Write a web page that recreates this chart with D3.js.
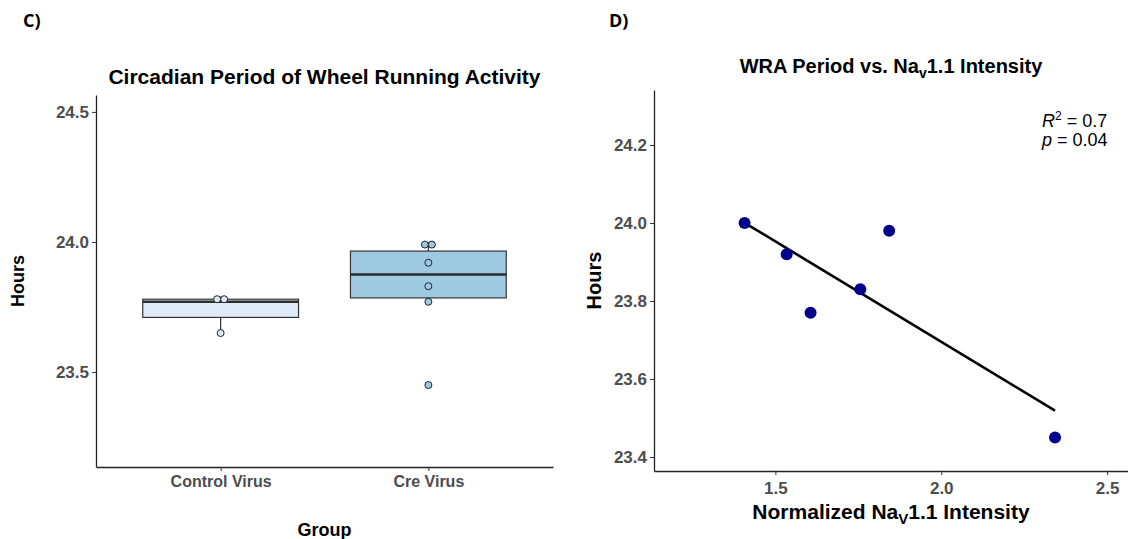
<!DOCTYPE html>
<html>
  <head>
    <style>
      body { margin: 0; background: #fff; }
      svg { font-family: "Liberation Sans", Arial, sans-serif; }
      .tick text { font-weight: bold; fill: #4d4d4d; }
      .tick line { stroke: #333; }
      .domain { stroke: #222; stroke-width: 1.3; }
      .panel-tag { font-family: "Open Sans", sans-serif; font-weight: 700; font-size: 18px; }
      .title { font-weight: bold; text-anchor: middle; }
      .axis-title { font-weight: bold; text-anchor: middle; }
    </style>
  </head>
  <body>
    <script src="https://d3js.org/d3.v7.min.js"></script>
    <div id="chart"></div>
    <script>
      // Data
      var groups = ["Control Virus", "Cre Virus"];
      var controlHours = [23.65, 23.77, 23.79];
      // Cre animals, in the same order as naIntensity
      var creHours = [24.00, 23.92, 23.77, 23.83, 23.98, 23.45];
      var naIntensity = [1.407, 1.534, 1.606, 1.756, 1.843, 2.343];

      var boxYTicks = [23.5, 24.0, 24.5];
      var scatYTicks = [23.4, 23.6, 23.8, 24.0, 24.2];
      var scatXTicks = [1.5, 2.0, 2.5];
      var boxFills = ["#deebf7", "#9ecae1"];

      var svg = d3.select("#chart")
                  .append("svg")
                    .attr("width", 1128)
                    .attr("height", 539);

      // ---------- Panel C: boxplot ----------
      var L = {left: 96, right: 553, top: 95, bottom: 467};

      var x = d3.scalePoint()
                .domain(groups)
                .range([L.left, L.right])
                .padding(0.6);
      var y = d3.scaleLinear()
                .domain([23.135, 24.565])
                .range([L.bottom, L.top]);

      svg.append("text")
          .attr("class", "panel-tag")
          .attr("x", 23).attr("y", 27)
          .text("C)");

      svg.append("text")
          .attr("class", "title")
          .attr("x", (L.left + L.right) / 2)
          .attr("y", 84)
          .style("font-size", "21px")
          .text("Circadian Period of Wheel Running Activity");

      var boxW = x.step() * 0.75;
      var sets = [controlHours, creHours];

      sets.forEach(function(vals, i) {
        var s = vals.slice().sort(d3.ascending);
        var q1 = d3.quantile(s, 0.25),
            med = d3.quantile(s, 0.5),
            q3 = d3.quantile(s, 0.75),
            iqr = q3 - q1;
        var lo = d3.min(s.filter(function(v) { return v >= q1 - 1.5 * iqr; })),
            hi = d3.max(s.filter(function(v) { return v <= q3 + 1.5 * iqr; }));
        var cx = x(groups[i]);
        var g = svg.append("g");

        // whiskers
        g.append("line")
            .attr("x1", cx).attr("x2", cx)
            .attr("y1", y(q1)).attr("y2", y(lo))
            .attr("stroke", "#333").attr("stroke-width", 1.2);
        g.append("line")
            .attr("x1", cx).attr("x2", cx)
            .attr("y1", y(q3)).attr("y2", y(hi))
            .attr("stroke", "#333").attr("stroke-width", 1.2);

        g.append("rect")
            .attr("x", cx - boxW / 2)
            .attr("width", boxW)
            .attr("y", y(q3))
            .attr("height", y(q1) - y(q3))
            .attr("fill", boxFills[i])
            .attr("stroke", "#333")
            .attr("stroke-width", 1.2);

        g.append("line")
            .attr("x1", cx - boxW / 2).attr("x2", cx + boxW / 2)
            .attr("y1", y(med)).attr("y2", y(med))
            .attr("stroke", "#2b2b2b").attr("stroke-width", 2.6);

        // dots: values closer than binwidth are stacked side by side at the bin centre
        var bins = [], bw = 0.025;
        s.forEach(function(v) {
          var b = bins[bins.length - 1];
          if (b && v - b[0] < bw) b.push(v); else bins.push([v]);
        });
        var r = 3.5;
        bins.forEach(function(b) {
          var c = (b[0] + b[b.length - 1]) / 2;
          b.forEach(function(v, k) {
            g.append("circle")
                .attr("cx", cx + (k - (b.length - 1) / 2) * 2 * r)
                .attr("cy", y(c))
                .attr("r", r)
                .attr("fill", boxFills[i])
                .attr("stroke", "#222")
                .attr("stroke-width", 1);
          });
        });
      });

      svg.append("g")
          .attr("transform", "translate(" + L.left + ",0)")
          .call(d3.axisLeft(y).tickValues(boxYTicks)
                  .tickFormat(d3.format(".1f"))
                  .tickSize(4).tickSizeOuter(0).tickPadding(3))
          .selectAll("text").style("font-size", "17px");

      svg.append("g")
          .attr("transform", "translate(0," + L.bottom + ")")
          .call(d3.axisBottom(x).tickSize(4).tickSizeOuter(0).tickPadding(5))
          .selectAll("text").style("font-size", "16px");

      svg.append("text")
          .attr("class", "axis-title")
          .attr("transform", "translate(24," + ((L.top + L.bottom) / 2) + ") rotate(-90)")
          .style("font-size", "18px")
          .text("Hours");

      svg.append("text")
          .attr("class", "axis-title")
          .attr("x", (L.left + L.right) / 2)
          .attr("y", 536)
          .style("font-size", "18px")
          .text("Group");

      // ---------- Panel D: scatter with fit ----------
      var R = {left: 654, right: 1128, top: 90, bottom: 471};

      var sx = d3.scaleLinear()
                 .domain([1.134, 2.563])
                 .range([R.left, R.right]);
      var sy = d3.scaleLinear()
                 .domain([23.364, 24.341])
                 .range([R.bottom, R.top]);

      svg.append("text")
          .attr("class", "panel-tag")
          .attr("x", 609).attr("y", 27)
          .text("D)");

      var t2 = svg.append("text")
          .attr("class", "title")
          .attr("x", (R.left + R.right) / 2)
          .attr("y", 73)
          .style("font-size", "20px");
      t2.append("tspan").text("WRA Period vs. Na");
      t2.append("tspan").attr("dy", 5).style("font-size", "14px").text("v");
      t2.append("tspan").attr("dy", -5).text("1.1 Intensity");

      // least squares fit of hours on intensity
      var mx = d3.mean(naIntensity), my = d3.mean(creHours);
      var sxy = d3.sum(naIntensity, function(v, i) { return (v - mx) * (creHours[i] - my); });
      var sxx = d3.sum(naIntensity, function(v) { return (v - mx) * (v - mx); });
      var slope = sxy / sxx, icpt = my - slope * mx;
      var xr = d3.extent(naIntensity);

      svg.append("line")
          .attr("x1", sx(xr[0])).attr("y1", sy(icpt + slope * xr[0]))
          .attr("x2", sx(xr[1])).attr("y2", sy(icpt + slope * xr[1]))
          .attr("stroke", "#000")
          .attr("stroke-width", 2.6);

      svg.selectAll(".pt")
          .data(naIntensity)
        .enter().append("circle")
          .attr("class", "pt")
          .attr("cx", function(d) { return sx(d); })
          .attr("cy", function(d, i) { return sy(creHours[i]); })
          .attr("r", 6)
          .attr("fill", "#00008b");

      svg.append("g")
          .attr("transform", "translate(" + R.left + ",0)")
          .call(d3.axisLeft(sy).tickValues(scatYTicks)
                  .tickFormat(d3.format(".1f"))
                  .tickSize(4).tickSizeOuter(0).tickPadding(3))
          .selectAll("text").style("font-size", "17px");

      svg.append("g")
          .attr("transform", "translate(0," + R.bottom + ")")
          .call(d3.axisBottom(sx).tickValues(scatXTicks)
                  .tickFormat(d3.format(".1f"))
                  .tickSize(4).tickSizeOuter(0).tickPadding(7))
          .selectAll("text").style("font-size", "17px");

      svg.append("text")
          .attr("class", "axis-title")
          .attr("transform", "translate(601," + ((R.top + R.bottom) / 2) + ") rotate(-90)")
          .style("font-size", "20px")
          .text("Hours");

      var xt = svg.append("text")
          .attr("class", "axis-title")
          .attr("x", (R.left + R.right) / 2)
          .attr("y", 519)
          .style("font-size", "21px");
      xt.append("tspan").text("Normalized Na");
      xt.append("tspan").attr("dy", 5).style("font-size", "15px").text("V");
      xt.append("tspan").attr("dy", -5).text("1.1 Intensity");

      // fit statistics
      var ann = svg.append("g").style("font-size", "18px");
      var a1 = ann.append("text").attr("x", 1042).attr("y", 127);
      a1.append("tspan").style("font-style", "italic").text("R");
      a1.append("tspan").attr("dy", -7).style("font-size", "12px").text("2");
      a1.append("tspan").attr("dy", 7).text(" = 0.7");
      var a2 = ann.append("text").attr("x", 1042).attr("y", 146);
      a2.append("tspan").style("font-style", "italic").text("p");
      a2.append("tspan").text(" = 0.04");
    </script>
  </body>
</html>
